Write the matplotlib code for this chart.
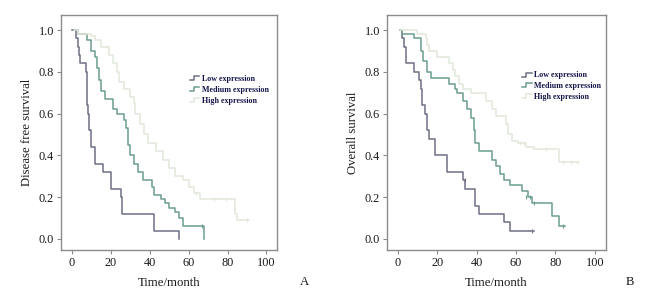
import matplotlib
matplotlib.use("Agg")
import matplotlib.pyplot as plt
from matplotlib.lines import Line2D
from matplotlib.legend_handler import HandlerLine2D

# ---------------- data ----------------
# Panel A: Disease free survival
a_low_t = [0, 2, 3, 3.5, 4, 7, 8, 8.5, 8.8, 9, 10, 12, 16, 20, 25, 26, 42, 55]
a_low_s = [1.0, 0.96, 0.92, 0.88, 0.84, 0.80, 0.64, 0.60, 0.56, 0.52, 0.44, 0.36, 0.32, 0.24, 0.20, 0.12, 0.04, 0.0]

a_med_t = [1, 3, 8, 10, 12, 13, 14, 15, 17, 21, 23, 27, 28, 29, 30, 32, 34, 36.5, 41, 42, 46, 48, 50, 53, 55, 57, 68]
a_med_s = [1.0, 0.98, 0.95, 0.90, 0.87, 0.82, 0.76, 0.71, 0.67, 0.62, 0.60, 0.57, 0.53, 0.45, 0.40, 0.36, 0.32, 0.28, 0.25, 0.21, 0.19, 0.17, 0.15, 0.13, 0.10, 0.06, 0.0]

a_high_t = [1, 3, 10, 12, 15, 19, 21, 23, 24, 27, 30, 32, 32.5, 35, 37, 39, 43, 47, 50, 53, 57, 60, 63, 66, 84, 85, 91]
a_high_s = [1.0, 0.98, 0.97, 0.95, 0.92, 0.88, 0.84, 0.80, 0.75, 0.72, 0.68, 0.65, 0.60, 0.55, 0.50, 0.46, 0.42, 0.38, 0.34, 0.30, 0.28, 0.25, 0.22, 0.19, 0.12, 0.09, 0.09]

a_med_cens_t = [67]
a_med_cens_s = [0.06]
a_high_cens_t = [64, 73, 79, 90]
a_high_cens_s = [0.22, 0.19, 0.19, 0.09]

# Panel B: Overall survival
b_low_t = [1, 2, 3, 4, 8, 11, 12, 12.5, 14, 15, 16, 19, 25, 33, 34, 39, 41, 54, 57, 69]
b_low_s = [1.0, 0.96, 0.92, 0.84, 0.80, 0.76, 0.72, 0.64, 0.60, 0.52, 0.48, 0.40, 0.32, 0.28, 0.24, 0.16, 0.12, 0.08, 0.04, 0.04]

b_med_t = [1, 2, 8, 11.7, 12, 13, 15, 17, 26, 29, 30, 33, 35, 37, 38.5, 39, 41, 48, 50, 52, 54, 57, 63, 66, 68, 78, 82, 85]
b_med_s = [1.0, 0.98, 0.96, 0.93, 0.90, 0.85, 0.80, 0.77, 0.74, 0.72, 0.70, 0.66, 0.62, 0.58, 0.52, 0.46, 0.42, 0.38, 0.35, 0.31, 0.28, 0.26, 0.23, 0.20, 0.17, 0.11, 0.06, 0.06]

b_high_t = [1, 10, 14.5, 15, 16, 20, 26, 28, 29, 31, 33, 37, 45, 48, 50, 55, 56, 58, 61, 65, 69, 82, 92]
b_high_s = [1.0, 0.98, 0.96, 0.93, 0.90, 0.87, 0.84, 0.81, 0.78, 0.74, 0.72, 0.70, 0.66, 0.62, 0.59, 0.55, 0.50, 0.47, 0.46, 0.44, 0.43, 0.37, 0.37]

b_low_cens_t = [34, 68]
b_low_cens_s = [0.28, 0.04]
b_med_cens_t = [65, 67, 69, 84]
b_med_cens_s = [0.20, 0.20, 0.17, 0.06]
b_high_cens_t = [62, 64, 75, 84, 88, 91]
b_high_cens_s = [0.46, 0.46, 0.43, 0.37, 0.37, 0.37]

series_names = ["Low expression", "Medium expression", "High expression"]
x_ticks = [0, 20, 40, 60, 80, 100]
y_ticks = [0.0, 0.2, 0.4, 0.6, 0.8, 1.0]
y_tick_labels = ["0.0", "0.2", "0.4", "0.6", "0.8", "1.0"]

# ---------------- style ----------------
col_low = "#6d7086"
col_med = "#6c9e8e"
col_high = "#e2e8da"
frame_col = "#8c8c8c"
text_col = "#1a1a1a"
legend_text_col = "#14144a"
serif = ["Liberation Serif", "DejaVu Serif"]

plt.rcParams["font.family"] = serif


class StepHandler(HandlerLine2D):
    def create_artists(self, legend, orig_handle, xdescent, ydescent,
                       width, height, fontsize, trans):
        x0 = -xdescent
        y0 = -ydescent
        xs = [x0, x0 + width * 0.45, x0 + width * 0.45, x0 + width]
        ys = [y0 + height * 0.15, y0 + height * 0.15, y0 + height * 0.85, y0 + height * 0.85]
        ln = Line2D(xs, ys, color=orig_handle.get_color(), lw=orig_handle.get_linewidth())
        ln.set_transform(trans)
        return [ln]


fig = plt.figure(figsize=(6.47, 2.95), dpi=100)
axA = fig.add_axes([0.0943, 0.1525, 0.334, 0.7966])
axB = fig.add_axes([0.5977, 0.1525, 0.3385, 0.7966])


def draw_panel(ax, low, med, high, cens, ylabel, legend_anchor, letter, letter_x):
    lines = []
    for (t, s), c in zip([low, med, high], [col_low, col_med, col_high]):
        ln, = ax.step(t, s, where="post", color=c, lw=1.1)
        lines.append(ln)
    for (ct, cs), c in cens:
        ax.plot(ct, cs, linestyle="none", marker="|", markersize=3, color=c, mew=0.8)
    ax.set_xlim(-5.6, 105.5)
    ax.set_ylim(-0.053, 1.072)
    ax.set_xticks(x_ticks)
    ax.set_yticks(y_ticks)
    ax.set_yticklabels(y_tick_labels)
    ax.tick_params(direction="out", length=3, width=0.8, color=frame_col,
                   labelsize=8.8, labelcolor=text_col, pad=2)
    for sp in ax.spines.values():
        sp.set_color(frame_col)
        sp.set_linewidth(1.0)
    ax.set_xlabel("Time/month", fontsize=9.2, color=text_col, labelpad=6)
    ax.set_ylabel(ylabel, fontsize=9.2, color=text_col, labelpad=4)
    leg = ax.legend(lines, series_names, loc="upper left", bbox_to_anchor=legend_anchor,
                    frameon=False, fontsize=5.8, handlelength=1.2, handletextpad=0.3,
                    labelspacing=0.35, borderpad=0, borderaxespad=0,
                    handler_map={Line2D: StepHandler()})
    for txt in leg.get_texts():
        txt.set_color(legend_text_col)
        txt.set_fontweight("bold")
    fig.text(letter_x, 1 - 282 / 295, letter, fontsize=9.2, color=text_col,
             ha="center", va="center")


draw_panel(axA, (a_low_t, a_low_s), (a_med_t, a_med_s), (a_high_t, a_high_s),
           [((a_med_cens_t, a_med_cens_s), col_med), ((a_high_cens_t, a_high_cens_s), col_high)],
           "Disease free survival", (0.595, 0.745), "A", 305 / 647)
draw_panel(axB, (b_low_t, b_low_s), (b_med_t, b_med_s), (b_high_t, b_high_s),
           [((b_low_cens_t, b_low_cens_s), col_low), ((b_med_cens_t, b_med_cens_s), col_med),
            ((b_high_cens_t, b_high_cens_s), col_high)],
           "Overall survival", (0.618, 0.76), "B", 630 / 647)

fig.savefig("out.png", dpi=100)
